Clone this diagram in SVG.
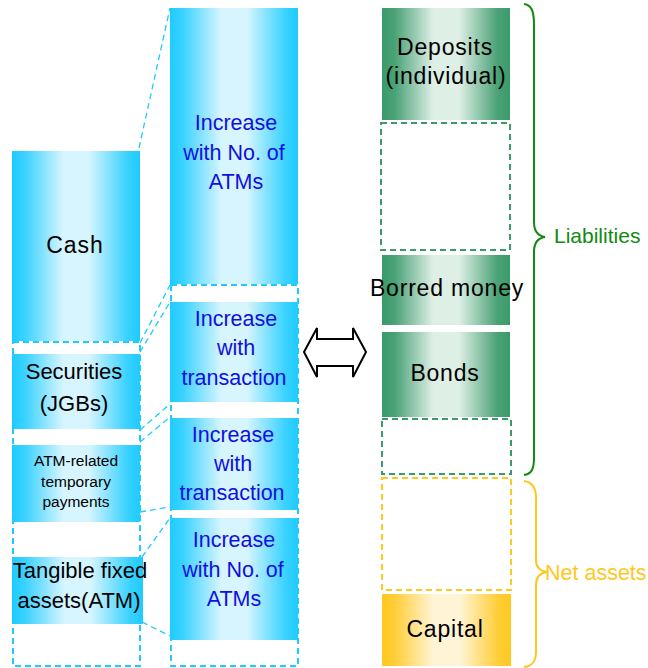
<svg xmlns="http://www.w3.org/2000/svg" width="648" height="668" viewBox="0 0 648 668">
<defs>
<linearGradient id="gBlue" x1="0" y1="0" x2="1" y2="0">
<stop offset="0" stop-color="#1ECBFF"/><stop offset="0.1" stop-color="#3AD2FF"/><stop offset="0.4" stop-color="#D6F5FF"/><stop offset="0.6" stop-color="#D6F5FF"/><stop offset="0.9" stop-color="#3AD2FF"/><stop offset="1" stop-color="#1ECBFF"/>
</linearGradient>
<linearGradient id="gGreen" x1="0" y1="0" x2="1" y2="0">
<stop offset="0" stop-color="#3A9A6A"/><stop offset="0.1" stop-color="#4AA276"/><stop offset="0.4" stop-color="#DEEFE6"/><stop offset="0.6" stop-color="#DEEFE6"/><stop offset="0.9" stop-color="#4AA276"/><stop offset="1" stop-color="#3A9A6A"/>
</linearGradient>
<linearGradient id="gYellow" x1="0" y1="0" x2="1" y2="0">
<stop offset="0" stop-color="#FFC81E"/><stop offset="0.1" stop-color="#FFCE38"/><stop offset="0.4" stop-color="#FFF5D6"/><stop offset="0.6" stop-color="#FFF5D6"/><stop offset="0.9" stop-color="#FFCE38"/><stop offset="1" stop-color="#FFC81E"/>
</linearGradient>
</defs>
<style>
text{font-family:"Liberation Sans",Arial,sans-serif;text-anchor:middle}
.blk{fill:#000;font-size:22px}
.rgt{fill:#000;font-size:23px;letter-spacing:0.8px}
.blu{fill:#1010E0;font-size:21.5px}
.bdash{fill:none;stroke:#1ECBFF;stroke-width:2;stroke-dasharray:6 4}
.gdash{fill:none;stroke:#3A9A6A;stroke-width:2;stroke-dasharray:6 4}
.ydash{fill:none;stroke:#FFC81E;stroke-width:2;stroke-dasharray:6 4}
.conn{fill:none;stroke:#1ECBFF;stroke-width:1.3;stroke-dasharray:6 4}
</style>

<!-- left column -->
<g id="left-frame"><rect class="bdash" x="13" y="342" width="127" height="324"/></g>
<g id="cash"><rect x="12" y="151" width="128" height="190" fill="url(#gBlue)"/><text class="blk" x="75" y="253" style="font-size:23px;letter-spacing:1px">Cash</text></g>
<g id="securities"><rect x="12" y="354" width="128" height="75" fill="url(#gBlue)"/><text class="blk" x="74" y="379">Securities</text><text class="blk" x="74" y="411">(JGBs)</text></g>
<g id="atm-payments"><rect x="12" y="445" width="128" height="77" fill="url(#gBlue)"/><text class="blk" x="76" y="466" style="font-size:15.5px">ATM-related</text><text class="blk" x="76" y="487" style="font-size:15.5px">temporary</text><text class="blk" x="76" y="507" style="font-size:15.5px">payments</text></g>
<g id="tangible"><rect x="12" y="557" width="131" height="67" fill="url(#gBlue)"/><text class="blk" x="80" y="578">Tangible fixed</text><text class="blk" x="79" y="608">assets(ATM)</text></g>

<!-- middle column -->
<g id="mid-frame"><rect class="bdash" x="171" y="285" width="127" height="381"/></g>
<g id="inc-atms-1"><rect x="170" y="8" width="128" height="276" fill="url(#gBlue)"/><text class="blu" x="236" y="130">Increase</text><text class="blu" x="234" y="160">with No. of</text><text class="blu" x="236" y="189">ATMs</text></g>
<g id="inc-trans-1"><rect x="170" y="302" width="128" height="100" fill="url(#gBlue)"/><text class="blu" x="236" y="326">Increase</text><text class="blu" x="236" y="355">with</text><text class="blu" x="234" y="385">transaction</text></g>
<g id="inc-trans-2"><rect x="170" y="418" width="128" height="92" fill="url(#gBlue)"/><text class="blu" x="233" y="442">Increase</text><text class="blu" x="233" y="471">with</text><text class="blu" x="232" y="500">transaction</text></g>
<g id="inc-atms-2"><rect x="170" y="518" width="128" height="122" fill="url(#gBlue)"/><text class="blu" x="234" y="547">Increase</text><text class="blu" x="233" y="577">with No. of</text><text class="blu" x="234" y="606">ATMs</text></g>

<!-- right column -->
<g id="deposits"><rect x="382" y="8" width="128" height="112" fill="url(#gGreen)"/><text class="rgt" x="445" y="55">Deposits</text><text class="rgt" x="446" y="84">(individual)</text></g>
<g id="liab-gap-1"><rect class="gdash" x="381" y="123" width="129" height="127"/></g>
<g id="borrowed"><rect x="382" y="255" width="128" height="70" fill="url(#gGreen)"/><text class="rgt" x="447" y="296">Borred money</text></g>
<g id="bonds"><rect x="382" y="332" width="128" height="85" fill="url(#gGreen)"/><text class="rgt" x="445" y="381">Bonds</text></g>
<g id="liab-gap-2"><rect class="gdash" x="382" y="419" width="129" height="55"/></g>
<g id="net-gap"><rect class="ydash" x="382" y="478" width="129" height="112"/></g>
<g id="capital"><rect x="382" y="594" width="129" height="72" fill="url(#gYellow)"/><text class="rgt" x="445" y="637">Capital</text></g>

<!-- braces -->
<g id="liabilities">
<path d="M524,4 C532,5 534,12 534,25 L534,222 C534,232 538,236 545,237 C538,238 534,242 534,252 L534,458 C534,470 531,474 524,475" fill="none" stroke="#108A10" stroke-width="2"/>
<text x="554" y="243" style="font-size:21px;fill:#108A10;text-anchor:start">Liabilities</text>
</g>
<g id="net-assets">
<path d="M524,481 C532,482 536,488 536,498 L536,560 C536,568 540,571 547,572 C540,573 536,577 536,585 L536,652 C536,662 532,666 524,667" fill="none" stroke="#FFC81E" stroke-width="2"/>
<text x="545" y="580" style="font-size:21.5px;fill:#FFC81E;text-anchor:start">Net assets</text>
</g>

<!-- connectors -->
<g id="connectors">
<line class="conn" x1="139" y1="148" x2="170" y2="8"/>
<line class="conn" x1="140" y1="343" x2="170" y2="285"/>
<line class="conn" x1="140" y1="352" x2="170" y2="302"/>
<line class="conn" x1="140" y1="430" x2="170" y2="404"/>
<line class="conn" x1="140" y1="442" x2="170" y2="417"/>
<line class="conn" x1="140" y1="512" x2="170" y2="507"/>
<line class="conn" x1="142" y1="557" x2="170" y2="518"/>
<line class="conn" x1="142" y1="622" x2="170" y2="636"/>
<path d="M304,352 L317,328 L317,339 L353,339 L353,328 L366,352 L353,377 L353,366 L317,366 L317,377 Z" fill="#fff" stroke="#000" stroke-width="2"/>
</g>
</svg>
